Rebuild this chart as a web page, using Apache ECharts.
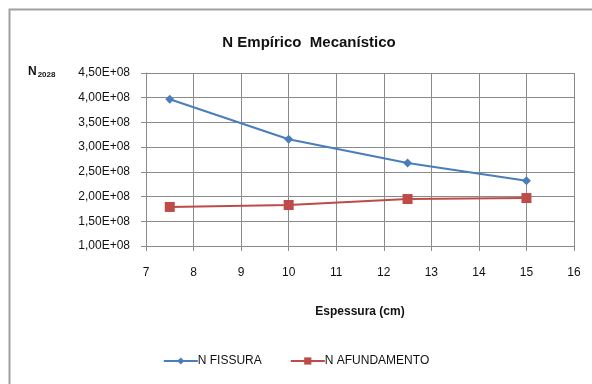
<!DOCTYPE html>
<html><head><meta charset="utf-8">
<script src="https://cdn.jsdelivr.net/npm/echarts@6/dist/echarts.min.js"></script>
<style>html,body{margin:0;padding:0;background:#fff}#c{width:592px;height:384px}</style>
</head><body><div id="c"></div>
<script>
const espessura = [7.5, 10, 12.5, 15];
const nFissura = [3.97e8, 3.16e8, 2.68e8, 2.32e8];
const nAfundamento = [1.79e8, 1.83e8, 1.95e8, 1.97e8];
const xTicks = [7, 8, 9, 10, 11, 12, 13, 14, 15, 16];
const yTickLabels = ['1,00E+08','1,50E+08','2,00E+08','2,50E+08','3,00E+08','3,50E+08','4,00E+08','4,50E+08'];
const FONT = '"Liberation Sans Narrow", "Arial Narrow", "Liberation Sans", sans-serif';
const chart = echarts.init(document.getElementById('c'));
const gridColor = '#8a8a8a';
chart.setOption({
  animation: false,
  title: { text: 'N Empírico  Mecanístico', left: 304, top: 30, textAlign: 'center',
    textStyle: { fontFamily: FONT, fontSize: 15, fontWeight: 'bold', color: '#111' } },
  graphic: [
    { type: 'rect', shape: { x: 9.5, y: 9.5, width: 620, height: 420 }, style: { fill: 'none', stroke: '#a0a0a0', lineWidth: 2 } },
    { type: 'text', left: 28, top: 66, style: { text: '{n|N}{s|2028}', rich: {
      n: { fontFamily: FONT, fontSize: 12, fontWeight: 'bold', fill: '#111' },
      s: { fontFamily: FONT, fontSize: 8, fontWeight: 'bold', fill: '#111', verticalAlign: 'bottom', padding: [6,0,0,1] } } } }
  ],
  legend: { bottom: 12, left: 'center', itemGap: 28, itemWidth: 34, itemHeight: 9,
    textStyle: { fontFamily: FONT, fontSize: 12, color: '#111', padding: [0,0,0,-5] },
    data: ['N FISSURA', 'N AFUNDAMENTO'] },
  grid: { left: 146, right: 18, top: 73, bottom: 138, containLabel: false },
  xAxis: { type: 'value', min: xTicks[0], max: xTicks[xTicks.length-1], interval: 1,
    name: 'Espessura (cm)', nameLocation: 'middle', nameGap: 60,
    nameTextStyle: { fontFamily: FONT, fontSize: 12, fontWeight: 'bold', color: '#111' },
    axisLine: { lineStyle: { color: gridColor, width: 1 } },
    axisTick: { show: true, length: 5, lineStyle: { color: gridColor } },
    axisLabel: { fontFamily: FONT, fontSize: 12, color: '#111', margin: 21 },
    splitLine: { show: true, lineStyle: { color: gridColor, width: 1 } } },
  yAxis: { type: 'value', min: 1e8, max: 4.5e8, interval: 0.5e8,
    axisLine: { show: true, lineStyle: { color: gridColor, width: 1 } },
    axisTick: { show: true, length: 5, lineStyle: { color: gridColor } },
    axisLabel: { fontFamily: FONT, fontSize: 12, color: '#111', margin: 16,
      formatter: v => yTickLabels[Math.round((v - 1e8) / 0.5e8)] },
    splitLine: { show: true, lineStyle: { color: gridColor, width: 1 } } },
  series: [
    { name: 'N FISSURA', type: 'line', data: espessura.map((x,i)=>[x, nFissura[i]]),
      symbol: 'diamond', symbolSize: 9, color: '#4a7ebb',
      lineStyle: { width: 2, color: '#4a7ebb' }, itemStyle: { color: '#4a7ebb' } },
    { name: 'N AFUNDAMENTO', type: 'line', data: espessura.map((x,i)=>[x, nAfundamento[i]]),
      symbol: 'rect', symbolSize: 10, color: '#be4b48',
      lineStyle: { width: 2, color: '#be4b48' }, itemStyle: { color: '#be4b48' } }
  ]
});
</script></body></html>
